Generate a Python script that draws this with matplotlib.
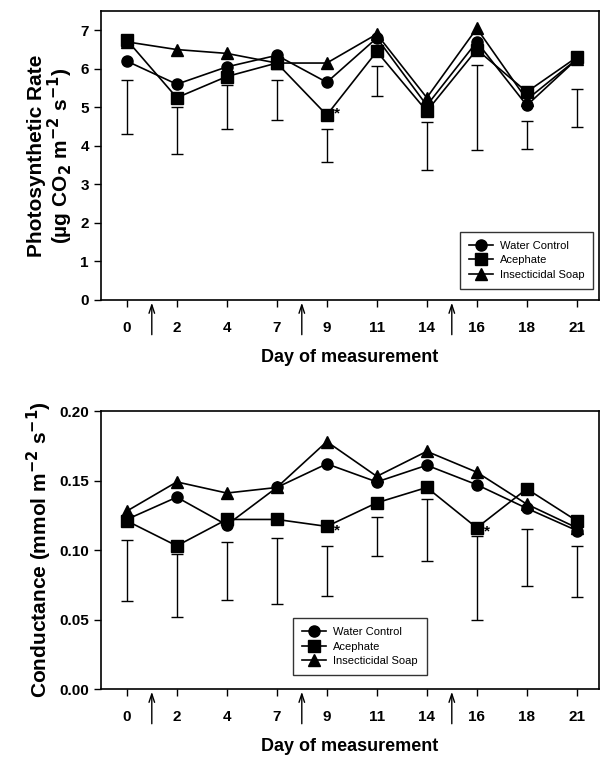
import matplotlib
matplotlib.use("Agg")
import matplotlib.pyplot as plt

plt.rcParams['font.family'] = ['Liberation Sans', 'DejaVu Sans']

days = ["0", "2", "4", "7", "9", "11", "14", "16", "18", "21"]
arrow_positions = [0.5, 3.5, 6.5]

# Photosynthetic rate
photo_water = [6.2, 5.6, 6.05, 6.35, 5.65, 6.8, 5.05, 6.7, 5.05, 6.25]
photo_acephate = [6.75, 5.25, 5.8, 6.15, 4.8, 6.45, 4.9, 6.5, 5.4, 6.3]
photo_soap = [6.7, 6.5, 6.4, 6.15, 6.15, 6.9, 5.25, 7.05, 5.2, 6.25]
photo_err_top = [5.7, 5.02, 5.58, 5.7, 4.43, 6.07, 4.62, 6.1, 4.65, 5.47]
photo_err_bottom = [4.3, 3.78, 4.43, 4.68, 3.58, 5.3, 3.38, 3.9, 3.93, 4.5]
photo_star_idx = [4]

# Conductance
cond_water = [0.122, 0.138, 0.118, 0.145, 0.162, 0.149, 0.161, 0.147, 0.130, 0.114]
cond_acephate = [0.121, 0.103, 0.122, 0.122, 0.117, 0.134, 0.145, 0.116, 0.144, 0.121]
cond_soap = [0.128, 0.149, 0.141, 0.145, 0.178, 0.153, 0.171, 0.156, 0.133, 0.116]
cond_err_top = [0.107, 0.097, 0.106, 0.109, 0.103, 0.124, 0.137, 0.110, 0.115, 0.103]
cond_err_bottom = [0.063, 0.052, 0.064, 0.061, 0.067, 0.096, 0.092, 0.050, 0.074, 0.066]
cond_star_idx = [4, 7]

labels = ["Water Control", "Acephate", "Insecticidal Soap"]

fig = plt.figure(figsize=(6.0, 7.66), dpi=100)
ax1 = fig.add_axes([0.168, 0.6084, 0.830, 0.3772])
ax2 = fig.add_axes([0.168, 0.1005, 0.830, 0.3629])

x = list(range(len(days)))


def draw(ax, water, aceph, soap, etop, ebot, stars, ylim, yticks, yticklabels, ylabel,
         legend_loc, star_offset):
    mids = [(t + b) / 2 for t, b in zip(etop, ebot)]
    half = [(t - b) / 2 for t, b in zip(etop, ebot)]
    ax.errorbar(x, mids, yerr=half, fmt='none', ecolor='black', elinewidth=1.0,
                capsize=4, capthick=1.0, zorder=2)
    ax.plot(x, water, '-o', color='black', lw=1.2, ms=8, label=labels[0], zorder=3)
    ax.plot(x, aceph, '-s', color='black', lw=1.2, ms=8, label=labels[1], zorder=3)
    ax.plot(x, soap, '-^', color='black', lw=1.2, ms=8, label=labels[2], zorder=3)
    for i in stars:
        ax.text(i + 0.2, aceph[i] + star_offset, '*', fontsize=11, fontweight='bold',
                ha='center', va='center')
    ax.set_xlim(-0.52, 9.44)
    ax.set_ylim(*ylim)
    ax.set_yticks(yticks)
    ax.set_yticklabels(yticklabels, fontsize=11, fontweight='bold')
    ax.set_xticks(x)
    ax.set_xticklabels(days, fontsize=11, fontweight='bold')
    ax.tick_params(axis='both', direction='out', length=5, width=1, colors='black')
    ax.tick_params(axis='x', pad=10)
    for sp in ax.spines.values():
        sp.set_linewidth(1.2)
    ax.set_xlabel("Day of measurement", fontsize=13, fontweight='bold', labelpad=10)
    ax.set_ylabel(ylabel, fontsize=15, fontweight='bold', linespacing=1.0)
    for p in arrow_positions:
        ax.annotate('', xy=(p, 0), xycoords=('data', 'axes fraction'),
                    xytext=(0, -27), textcoords='offset points',
                    arrowprops=dict(arrowstyle='->,head_length=0.6,head_width=0.2',
                                    color='black', lw=1.0),
                    annotation_clip=False)
    leg = ax.legend(loc=legend_loc[0], bbox_to_anchor=legend_loc[1], fontsize=8,
                    frameon=True, fancybox=False, edgecolor='black', handlelength=2.2,
                    borderpad=0.8, labelspacing=0.4, handletextpad=0.6)
    leg.get_frame().set_linewidth(1.0)


draw(ax1, photo_water, photo_acephate, photo_soap, photo_err_top, photo_err_bottom,
     photo_star_idx, (0, 7.5), [0, 1, 2, 3, 4, 5, 6, 7], ["0", "1", "2", "3", "4", "5", "6", "7"],
     "Photosynthetic Rate\n(µg CO$_\\mathbf{2}$ m$^{\\mathbf{-2}}$ s$^{\\mathbf{-1}}$)",
     ('lower right', (1.0, 0.02)), 0.05)

draw(ax2, cond_water, cond_acephate, cond_soap, cond_err_top, cond_err_bottom,
     cond_star_idx, (0, 0.20), [0.0, 0.05, 0.10, 0.15, 0.20],
     ["0.00", "0.05", "0.10", "0.15", "0.20"],
     "Conductance (mmol m$^{\\mathbf{-2}}$ s$^{\\mathbf{-1}}$)",
     ('lower left', (0.375, 0.03)), -0.003)

fig.savefig("out.png", dpi=100)
